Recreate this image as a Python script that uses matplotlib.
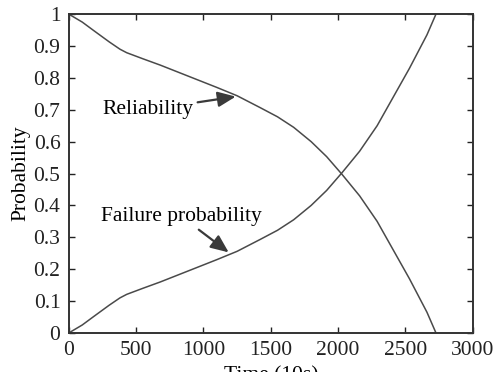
import matplotlib
matplotlib.use("Agg")
import matplotlib.pyplot as plt

# time axis (units of 10 s) and probabilities
time = [0, 100, 180, 300, 380, 430, 550, 680, 800, 920, 1100, 1250, 1420,
        1550, 1670, 1800, 1915, 2030, 2160, 2290, 2410, 2530, 2660, 2727]
reliability = [1.0, 0.975, 0.95, 0.913, 0.89, 0.879, 0.86, 0.84, 0.82, 0.80, 0.77, 0.744, 0.707,
               0.678, 0.645, 0.60, 0.553, 0.497, 0.43, 0.35, 0.26, 0.17, 0.065, 0.0]
failure = [0.0, 0.025, 0.05, 0.087, 0.11, 0.121, 0.14, 0.16, 0.18, 0.20, 0.23, 0.256, 0.293,
           0.322, 0.355, 0.40, 0.447, 0.503, 0.57, 0.65, 0.74, 0.83, 0.935, 1.0]

x_ticks = [0, 500, 1000, 1500, 2000, 2500, 3000]
y_ticks = [0, 0.1, 0.2, 0.3, 0.4, 0.5, 0.6, 0.7, 0.8, 0.9, 1]
y_tick_labels = ["0", "0.1", "0.2", "0.3", "0.4", "0.5", "0.6", "0.7", "0.8", "0.9", "1"]

plt.rcParams['font.family'] = ['Liberation Serif', 'DejaVu Serif']
plt.rcParams['font.size'] = 15

fig = plt.figure(figsize=(4.95, 3.72), dpi=100)
ax = fig.add_axes([0.139, 0.105, 0.816, 0.857])

line_col = '#4a4a4a'
ax.plot(time, reliability, color=line_col, lw=1.1)
ax.plot(time, failure, color=line_col, lw=1.1)

ax.set_xlim(0, 3000)
ax.set_ylim(0, 1)
ax.set_xticks(x_ticks)
ax.set_yticks(y_ticks)
ax.set_yticklabels(y_tick_labels)
ax.tick_params(direction='in', length=4, width=1, top=True, right=True,
               labelsize=15.5, pad=6, colors='#222222')
for s in ax.spines.values():
    s.set_linewidth(1.4)
    s.set_color('#333333')

# the x label sits partly below the bottom edge, as in the original
ax.set_xlabel("Time (10s)", fontsize=15.5, labelpad=4)
ax.set_ylabel("Probability", fontsize=15.5, labelpad=2)

arrow = dict(arrowstyle='-|>,head_length=0.7,head_width=0.3', color='#3a3a3a', lw=1.6,
             shrinkA=1, shrinkB=1)
ax.annotate("Reliability", xy=(1250, 0.742), xytext=(250, 0.70),
            fontsize=15.5, va='center', ha='left', arrowprops=arrow)
ax.annotate("Failure probability", xy=(1196, 0.25), xytext=(240, 0.365),
            fontsize=15.5, va='center', ha='left', arrowprops=arrow)

fig.savefig("out.png", dpi=100)
